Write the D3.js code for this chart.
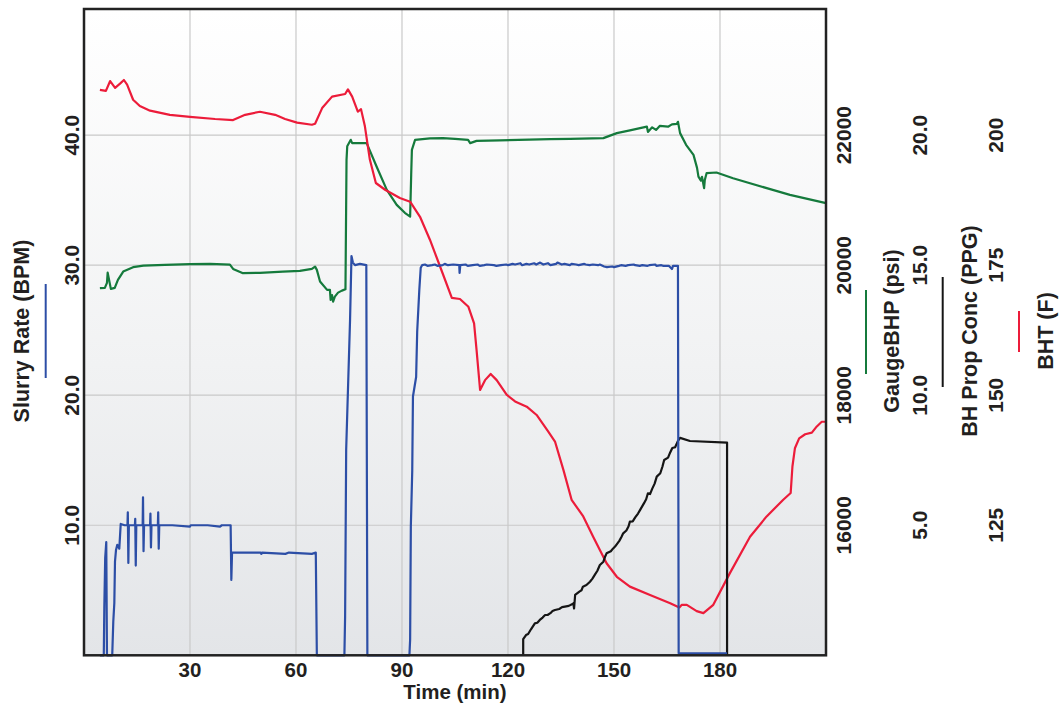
<!DOCTYPE html>
<html>
<head>
<meta charset="utf-8">
<script src="https://cdn.jsdelivr.net/npm/d3@7/dist/d3.min.js"></script>
<style>
  body { margin: 0; background: #fff; }
  text { font-family: "Liberation Sans", Arial, Helvetica, sans-serif; font-weight: bold; fill: #231f20; }
</style>
</head>
<body>
<script>
// [time (min), value] pairs

// Slurry Rate (BPM) - left axis
const slurryRate = [
  [4.5,0],[5.6,0],[5.75,3.7],[6.0,7.5],[6.3,8.7],[6.5,0],[7.99,0],[8.29,2.6],[8.58,4.0],[8.77,7.2],
  [9.06,8.1],[9.42,8.5],[9.99,8.2],[10.39,10.1],[11.5,10.0],[12.3,10.0],[12.4,11.0],[12.55,7.1],[12.7,10.0],
  [14.4,10.0],[14.5,10.5],[14.65,6.9],[14.8,10.0],[16.6,10.0],[16.7,12.15],[16.85,8.0],[17.0,10.0],
  [18.7,10.0],[18.8,10.9],[18.95,8.3],[19.1,10.0],[20.9,10.0],[21.0,11.0],[21.15,8.2],[21.3,10.0],
  [25,10.0],[30,9.9],[30.2,10.0],[35,10.0],[38.5,9.9],[39,10.0],[41.5,10.0],[41.7,5.8],[41.9,7.9],
  [50,7.9],[50.2,7.8],[50.4,7.9],[57,7.8],[58,7.9],[64.5,7.8],[65.6,7.9],[65.9,0],
  [73.7,0],[73.9,3.0],[74.2,15.8],[75.3,25.8],[75.7,30.7],[76.1,30.2],[76.7,30.0],[78.1,30.1],[79.9,30.0],[80.2,0],
  [92.1,0],[92.3,1.2],[92.5,9.9],[92.9,14.2],[93.1,19.9],[94.0,21.4],[94.3,24.9],[94.9,28.1],[95.3,29.8],
  [95.7,30.0],[96.5,30.05],[97.2,29.95],[98.5,30.0],[99.3,30.05],[100,29.95],[101.5,30.0],[102.1,30.1],
  [103,30.0],[104.5,30.05],[106.2,30.0],[106.3,29.4],[106.5,30.0],[108,30.05],[108.6,29.95],[110,30.0],
  [111.4,30.05],[112,29.95],[113.3,30.0],[114,30.05],[116,30.0],[116.7,29.95],[118,30.0],[119.5,30.05],
  [120,30.0],[121.3,30.1],[122,30.05],[123.5,30.15],[124,30.0],[125.2,30.1],[126,30.05],[127.4,30.15],
  [128,30.05],[129.1,30.2],[130,30.05],[131.3,30.15],[132,30.0],[133.6,30.1],[134,30.2],[135.2,30.05],
  [136,30.1],[137.5,30.0],[138,30.1],[139.3,30.05],[140,30.0],[141.6,30.1],[142,30.05],[143.1,30.0],
  [144,30.05],[145.5,30.0],[146,30.05],[147.2,29.9],[148,29.85],[149.5,29.9],[150,29.85],[151.4,29.95],
  [152,30.0],[153.3,29.95],[154,30.0],[155.6,30.05],[156,30.0],[157.3,29.95],[158,30.0],[159.5,29.95],
  [160,30.0],[161.7,30.05],[162,29.95],[163.4,30.0],[164,29.95],[165.5,29.95],[166.4,29.7],[166.7,29.95],
  [168.1,29.95],[168.3,0.15],[182,0.15]
];

// GaugeBHP (psi)
const gaugeBHP = [
  [4.5,19646],[5.9,19651],[6.5,19728],[6.7,19886],[7.1,19774],[7.6,19635],[8.7,19651],[9.6,19774],
  [11.1,19902],[13.9,19969],[16.8,19994],[22.9,20005],[30.0,20015],[35.7,20020],[41.3,20009],[42.2,19943],
  [45.0,19877],[49.8,19882],[56.3,19902],[61.1,19912],[64.5,19943],[65.4,19978],[65.9,19928],[66.8,19748],
  [68.8,19620],[69.6,19620],[69.8,19466],[70.2,19540],[70.5,19440],[71.0,19517],[71.9,19578],[73.0,19609],
  [74.0,19630],[74.3,21620],[74.5,21830],[75.5,21928],[75.9,21877],[80.0,21877],[82.8,21517],[85.7,21158],
  [88.5,20928],[90.8,20805],[92.3,20748],[92.6,21389],[92.8,21774],[93.7,21928],[97.9,21951],[101.6,21954],
  [105.0,21943],[108.7,21928],[109.3,21877],[111.1,21912],[117.7,21920],[131.9,21938],[137.6,21943],
  [147.0,21954],[150.8,22031],[154.5,22074],[159.3,22132],[159.6,22050],[160.8,22120],[161.9,22080],
  [163.0,22143],[165.3,22130],[166.4,22165],[167.8,22174],[168.1,22205],[168.7,22031],[170.4,21851],
  [172.5,21697],[173.5,21497],[173.9,21363],[174.6,21300],[174.9,21360],[175.5,21185],[175.7,21310],
  [176.2,21415],[179.0,21425],[183.7,21338],[194.2,21169],[199.8,21082],[210,20954]
];

// BH Prop Conc (PPG)
const propConc = [
  [124.3,0],[124.3,0.62],[125.1,0.78],[125.7,0.82],[126.5,1.0],[127.6,1.23],[128.3,1.25],[129,1.36],
  [129.8,1.45],[130.5,1.55],[131.2,1.55],[132,1.62],[132.6,1.7],[133.3,1.74],[134.5,1.78],[135.3,1.85],
  [136.1,1.87],[137.2,1.9],[138.1,1.96],[138.5,2.0],[138.7,1.8],[139.0,2.32],[140.2,2.45],[140.8,2.5],
  [141.2,2.64],[142.2,2.7],[143.2,2.83],[143.9,2.95],[144.6,3.1],[145.3,3.25],[146.0,3.47],[147.0,3.6],
  [147.5,3.8],[147.9,3.92],[149.1,4.0],[149.7,4.1],[150.3,4.18],[151.5,4.4],[152.1,4.55],[152.6,4.69],
  [153.5,4.8],[154.1,4.95],[154.5,5.14],[155.3,5.15],[156,5.3],[156.8,5.45],[157.4,5.59],[158.5,5.85],
  [159.1,6.0],[159.6,6.23],[160.2,6.2],[160.8,6.4],[161.5,6.6],[162.1,6.87],[163.1,7.0],[163.7,7.25],
  [164.2,7.51],[165.3,7.6],[165.9,7.8],[166.5,7.97],[167.3,8.0],[168.1,8.24],[168.7,8.36],[171.5,8.24],
  [182.0,8.18],[182.0,0]
];

// BHT (F)
const bht = [
  [4.5,208.7],[6.2,208.5],[7.4,210.4],[8.8,209.1],[10.2,209.9],[11.3,210.6],[12.2,209.7],[13.9,206.8],
  [15.8,205.6],[18.7,204.7],[24.3,203.9],[30.0,203.5],[37.1,203.1],[42.2,202.9],[45.6,203.9],[49.8,204.5],
  [54.1,203.9],[56.9,203.1],[60.3,202.4],[64.5,202.0],[65.4,202.2],[67.4,205.2],[70.2,207.4],[73.9,207.9],
  [74.7,208.8],[75.9,207.4],[77.5,204.5],[78.4,205.0],[79.5,201.7],[80.9,195.3],[82.6,190.8],[85.2,189.5],
  [89.4,187.9],[92.3,187.2],[95.1,184.3],[97.9,179.9],[100.8,174.7],[104.1,168.7],[106.4,168.5],
  [108.8,167.0],[110.4,163.8],[111.1,158.7],[112.1,151.0],[113.5,152.9],[115.1,154.1],[116.8,152.9],
  [119.6,150.1],[122.0,148.8],[125.3,147.8],[128.1,146.2],[131.4,143.0],[133.3,141.1],[135.7,135.6],
  [138.0,129.9],[141.3,126.7],[144.1,122.8],[147.9,117.7],[150.8,115.1],[154.5,113.2],[160.2,111.6],
  [165.9,110.0],[168.5,109.2],[169.2,109.7],[170.6,109.7],[173.4,108.5],[175.3,108.1],[178.1,109.7],
  [182.8,115.8],[188.5,122.8],[193.2,126.7],[197.9,129.9],[200.0,131.2],[200.5,136.3],[201.2,139.8],
  [202.4,141.7],[204.1,142.5],[206.0,142.8],[207.4,144.0],[208.8,144.9],[210,144.9]
];

const timeTicks = [30, 60, 90, 120, 150, 180];
const rateTicks = [10, 20, 30, 40];
const bhpTicks = [16000, 18000, 20000, 22000];
const propTicks = [5, 10, 15, 20];
const bhtTicks = [125, 150, 175, 200];

const width = 1059, height = 704;
const plot = { left: 84, right: 826, top: 9, bottom: 655.3 };

const svg = d3.select("body").append("svg")
    .attr("width", width)
    .attr("height", height);

const x = d3.scaleLinear().domain([0, 210]).range([plot.left, plot.right]);
const y = d3.scaleLinear().domain([0, 49.7]).range([plot.bottom, plot.top]);
const yBHP = d3.scaleLinear().domain([14000, 23940]).range([plot.bottom, plot.top]);
const yProp = d3.scaleLinear().domain([0, 24.85]).range([plot.bottom, plot.top]);
const yBHT = d3.scaleLinear().domain([100, 224.25]).range([plot.bottom, plot.top]);

// plot background gradient
const grad = svg.append("defs").append("linearGradient")
    .attr("id", "bg").attr("x1", 0).attr("y1", 0).attr("x2", 0).attr("y2", 1);
grad.append("stop").attr("offset", "0%").attr("stop-color", "#ffffff");
grad.append("stop").attr("offset", "55%").attr("stop-color", "#f1f2f3");
grad.append("stop").attr("offset", "100%").attr("stop-color", "#e3e5e8");

svg.append("rect")
    .attr("x", plot.left).attr("y", plot.top)
    .attr("width", plot.right - plot.left).attr("height", plot.bottom - plot.top)
    .attr("fill", "url(#bg)");

// grid
svg.append("g").selectAll("line").data(timeTicks).enter().append("line")
    .attr("x1", d => x(d)).attr("x2", d => x(d))
    .attr("y1", plot.top).attr("y2", plot.bottom)
    .attr("stroke", "#c9c9c9").attr("stroke-width", 1.2);
svg.append("g").selectAll("line").data(rateTicks).enter().append("line")
    .attr("x1", plot.left).attr("x2", plot.right)
    .attr("y1", d => y(d)).attr("y2", d => y(d))
    .attr("stroke", "#c9c9c9").attr("stroke-width", 1.2);

// series
function drawSeries(data, scale, color) {
  const line = d3.line().x(d => x(d[0])).y(d => scale(d[1]));
  svg.append("path")
      .datum(data)
      .attr("d", line)
      .attr("fill", "none")
      .attr("stroke", color)
      .attr("stroke-width", 2.2)
      .attr("stroke-linejoin", "round");
}
drawSeries(gaugeBHP, yBHP, "#157a3c");
drawSeries(bht, yBHT, "#ec1c3a");
drawSeries(propConc, yProp, "#151515");
drawSeries(slurryRate, y, "#2c4ea6");

// frame
svg.append("rect")
    .attr("x", plot.left).attr("y", plot.top)
    .attr("width", plot.right - plot.left).attr("height", plot.bottom - plot.top)
    .attr("fill", "none").attr("stroke", "#222").attr("stroke-width", 2.5);

// x axis labels
svg.append("g").selectAll("text").data(timeTicks).enter().append("text")
    .attr("x", d => x(d)).attr("y", 677)
    .attr("text-anchor", "middle").attr("font-size", 20.5)
    .text(d => d);
svg.append("text")
    .attr("x", (plot.left + plot.right) / 2).attr("y", 699)
    .attr("text-anchor", "middle").attr("font-size", 20.5)
    .text("Time (min)");

// rotated tick labels for each value axis
function rotatedTicks(ticks, scale, baseX, fmt) {
  svg.append("g").selectAll("text").data(ticks).enter().append("text")
      .attr("transform", d => "translate(" + baseX + "," + scale(d) + ") rotate(-90)")
      .attr("text-anchor", "middle").attr("font-size", 21)
      .text(fmt);
}
rotatedTicks(rateTicks, y, 79, d => d3.format(".1f")(d));
rotatedTicks(bhpTicks, yBHP, 851, d => d);
rotatedTicks(propTicks, yProp, 927, d => d3.format(".1f")(d));
rotatedTicks(bhtTicks, yBHT, 1003, d => d);

// axis titles with their colour keys
function axisTitle(label, baseX, keyX, keyTop, keyBottom, color) {
  svg.append("text")
      .attr("transform", "translate(" + baseX + ",331) rotate(-90)")
      .attr("text-anchor", "middle").attr("font-size", 21.5)
      .text(label);
  svg.append("line")
      .attr("x1", keyX).attr("x2", keyX)
      .attr("y1", keyTop).attr("y2", keyBottom)
      .attr("stroke", color).attr("stroke-width", 2);
}
axisTitle("Slurry Rate (BPM)", 29, 45.7, 284, 378, "#2c4ea6");
axisTitle("GaugeBHP (psi)", 899, 866, 290, 374, "#157a3c");
axisTitle("BH Prop Conc (PPG)", 977, 942.7, 277, 387, "#151515");
axisTitle("BHT (F)", 1053, 1019, 311, 352, "#ec1c3a");
</script>
</body>
</html>
